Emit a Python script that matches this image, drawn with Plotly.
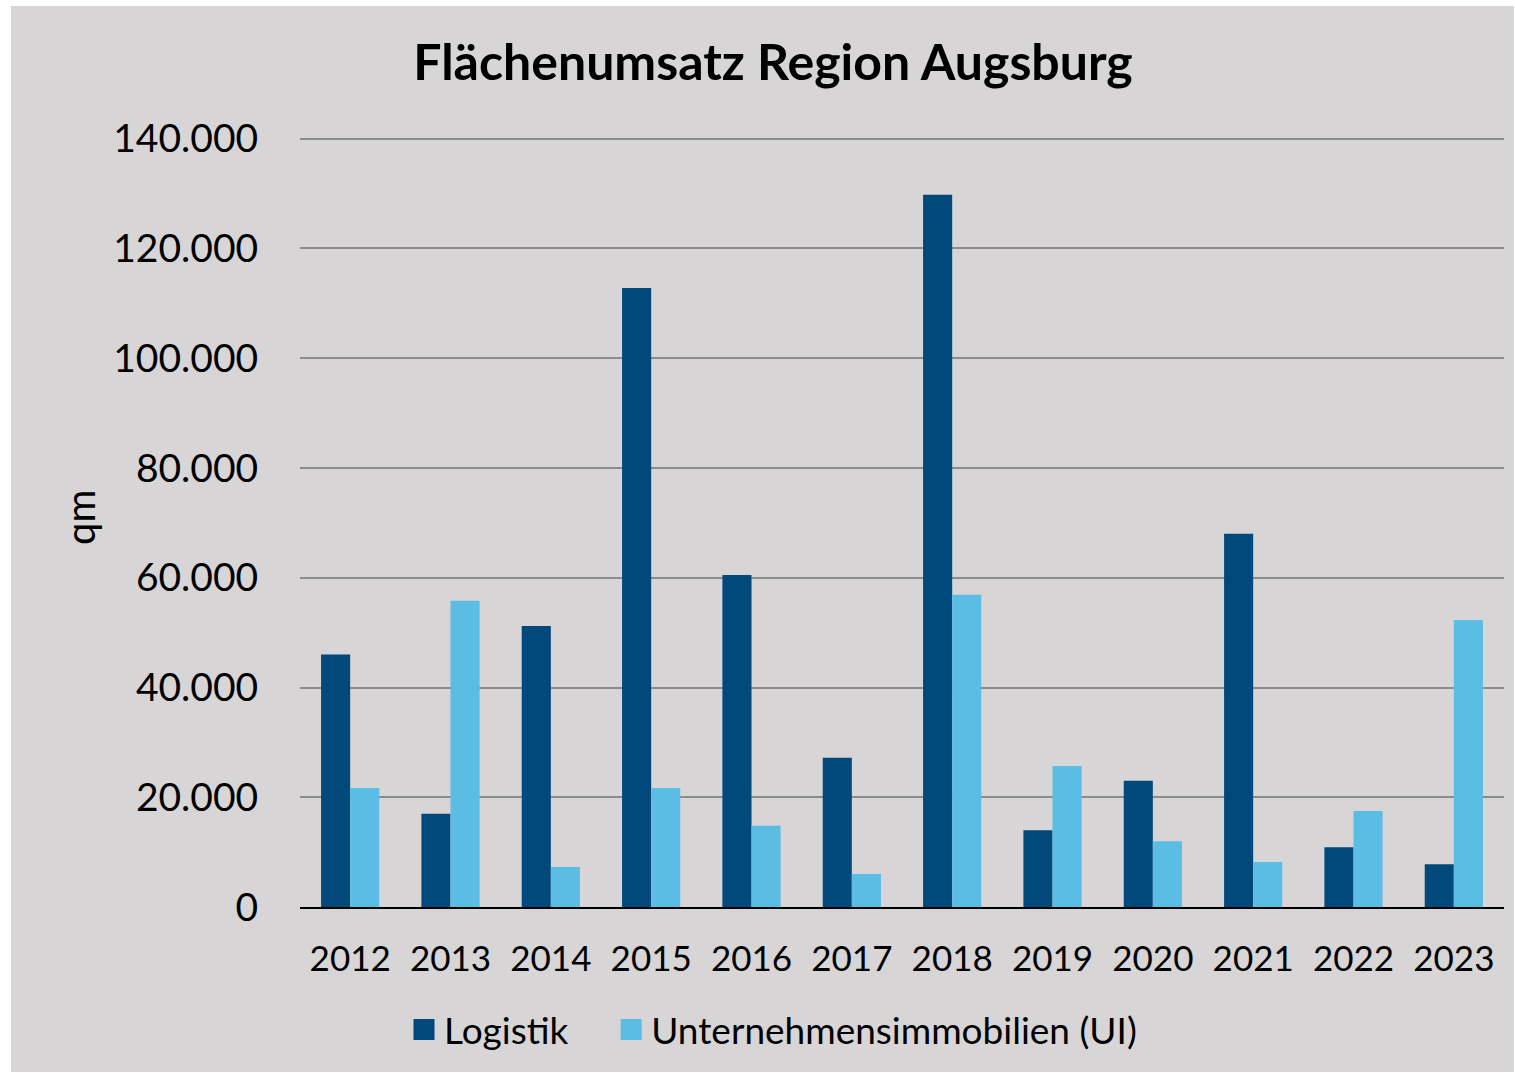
import plotly.graph_objects as go

years = ["2012", "2013", "2014", "2015", "2016", "2017", "2018", "2019", "2020", "2021", "2022", "2023"]
logistik = [46000, 17000, 51200, 112800, 60500, 27200, 129800, 14000, 23000, 68000, 10900, 7800]
ui = [21700, 55800, 7300, 21700, 14800, 6000, 56900, 25700, 12000, 8200, 17500, 52300]
series_names = ["Logistik", "Unternehmensimmobilien (UI)"]
colors = ["#00497a", "#5bbde4"]

GRAY = "#d7d5d6"
FONT = "Lato"
PAD = "\u00a0" * 4

fig = go.Figure()
for vals, name, col in zip([logistik, ui], series_names, colors):
    fig.add_trace(go.Bar(x=years, y=vals, name=name, marker_color=col, showlegend=False,
                         marker_line=dict(width=0)))
for i, (name, col) in enumerate(zip(series_names, colors)):
    fig.add_trace(go.Scatter(x=[None], y=[None], mode="markers",
                             name=name + (PAD if i == 0 else ""),
                             marker=dict(symbol="square", size=16, color=col,
                                         line=dict(color=col, width=5))))

W, H = 1515, 1073
YMAX = 140000
EXTRA = 500
L, R, B = 300, 11, 166
ph0 = 907 - 139  # pixels for 0..140000
T = int(round(139 - ph0 * EXTRA / YMAX))
pw, ph = W - L - R, H - T - B

def px(x):
    return (x - L) / pw

def py(y):
    return (H - B - y) / ph

fig.update_layout(
    width=W, height=H,
    margin=dict(l=L, r=R, t=T, b=B),
    paper_bgcolor="white",
    plot_bgcolor=GRAY,
    barmode="group",
    bargap=0.42,
    bargroupgap=0,
    separators=",.",
    font=dict(family=FONT, color="black", size=30),
    title=dict(text="<b>Flächenumsatz Region Augsburg</b>", x=773 / W, xref="container",
               y=1 - 62 / H, yref="container", xanchor="center", yanchor="middle",
               font=dict(family=FONT, size=50, color="black")),
    legend=dict(orientation="h", x=px(404), xanchor="left", y=py(1030), yanchor="middle",
                font=dict(family=FONT, size=37), bgcolor="rgba(0,0,0,0)", itemsizing="trace",
                itemwidth=30),
    shapes=[dict(type="rect", xref="paper", yref="paper", x0=px(11), x1=px(1514), y0=py(1072), y1=py(6),
                 fillcolor=GRAY, line_width=0, layer="below")],
    annotations=[dict(text="qm", xref="paper", yref="paper", x=px(80), y=py(518), textangle=-90,
                      showarrow=False, font=dict(family=FONT, size=40), xanchor="center", yanchor="middle")],
)
fig.update_yaxes(range=[0, YMAX + EXTRA], tick0=0, dtick=20000, tickformat=",d", gridcolor="#8c8c8c",
                 gridwidth=2, zeroline=False, showline=False, ticks="outside", ticklen=33,
                 tickcolor="rgba(0,0,0,0)", tickfont=dict(size=39))
fig.update_xaxes(showline=True, linecolor="black", linewidth=2, ticks="outside", ticklen=20,
                 tickcolor="rgba(0,0,0,0)", tickfont=dict(size=35))

fig.write_html("out.html", config={"displayModeBar": False},
               post_script="document.body.style.margin='0';document.body.style.padding='0';")
